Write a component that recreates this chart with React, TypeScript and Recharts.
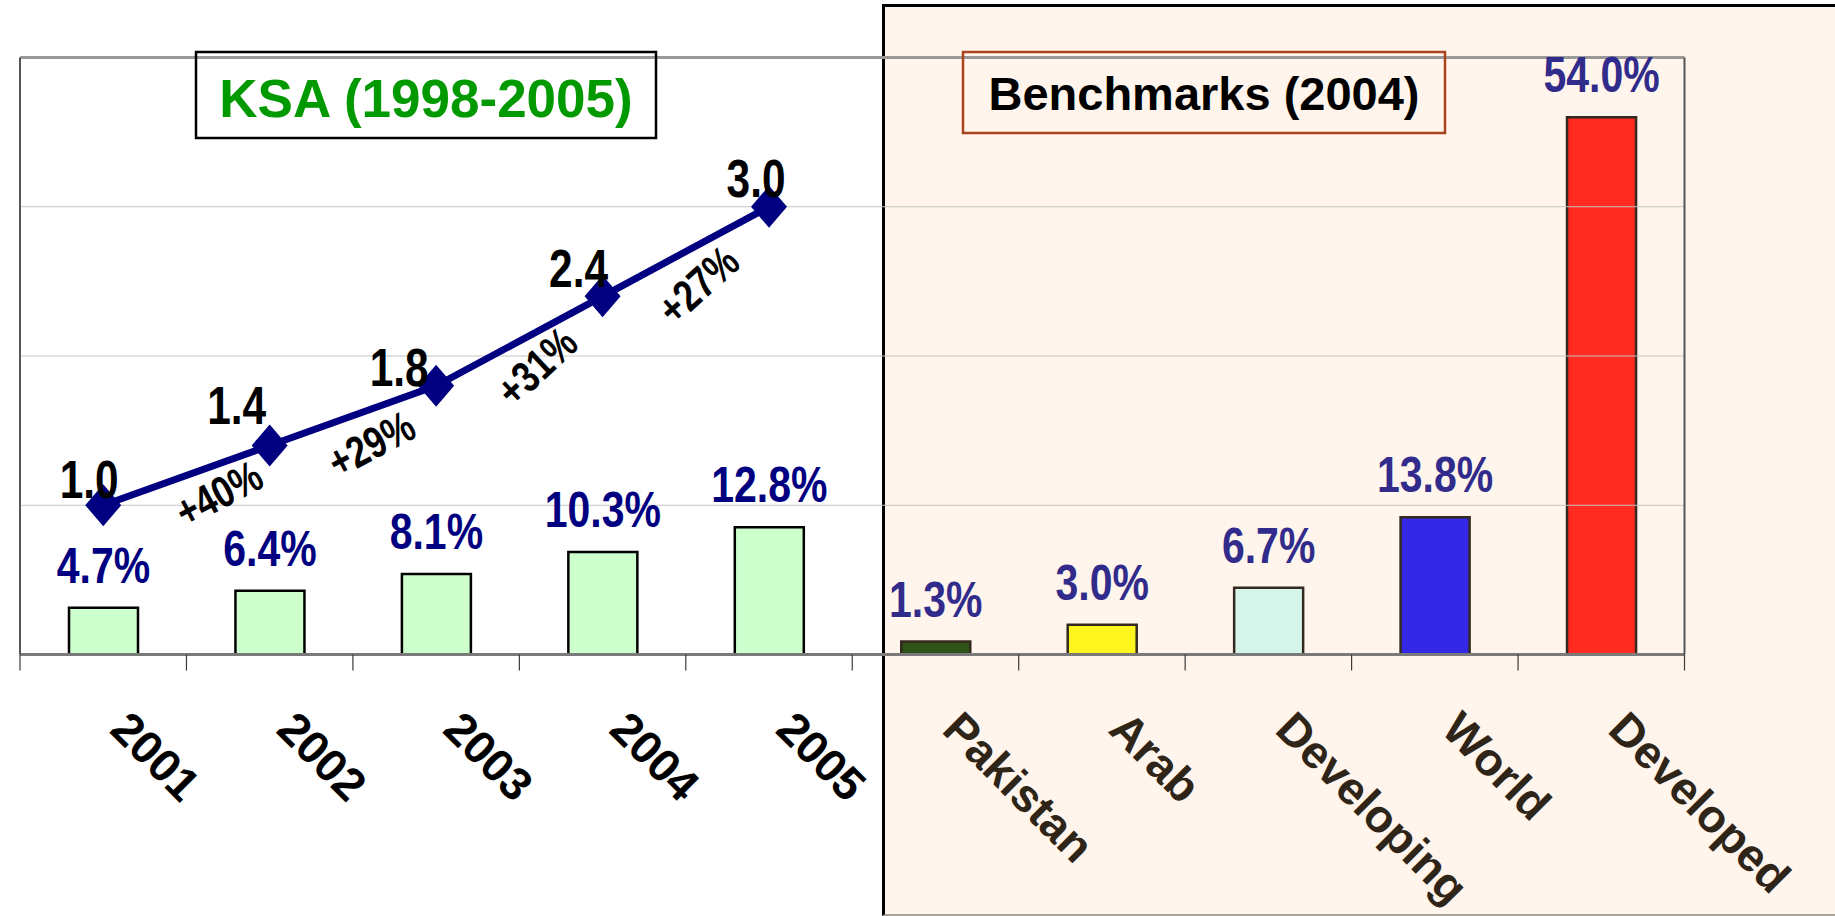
import React from 'react';
import { ComposedChart, Bar, Line, XAxis, YAxis, Cell, ReferenceLine, LabelList } from 'recharts';

// ---------- data ----------
const categories = ['2001', '2002', '2003', '2004', '2005', 'Pakistan', 'Arab', 'Developing', 'World', 'Developed'];
const ratesKSA = [4.7, 6.4, 8.1, 10.3, 12.8];
const ratesBenchmark = [1.3, 3.0, 6.7, 13.8, 54.0];
const indexKSA = [1.0, 1.4, 1.8, 2.4, 3.0];
const growthKSA = ['', '+40%', '+29%', '+31%', '+27%'];
const leftTicks = [0, 0.5, 1, 1.5, 2, 2.5, 3, 3.5, 4];
const rightTicks = [0, 10, 20, 30, 40, 50, 60];
const gridValues = [1, 2, 3];
const titleLeft = 'KSA (1998-2005)';
const titleRight = 'Benchmarks (2004)';

// ---------- layout / styles ----------
const W = 1835;
const H = 916;
const MARGIN = { top: 57.5, right: 0.5, left: 0, bottom: 61.5 };
const LEFT_AXIS_W = 20;
const RIGHT_AXIS_W = 150;
const FALLBACK_HALF_BAND = (W - MARGIN.left - MARGIN.right - LEFT_AXIS_W - RIGHT_AXIS_W) / (categories.length * 2);
const FONT = "'Liberation Sans', Arial, Helvetica, sans-serif";
const barFills = ['#CCFFCC', '#CCFFCC', '#CCFFCC', '#CCFFCC', '#CCFFCC', '#2E5218', '#FFF51E', '#D6F5EA', '#3228E6', '#FF2A20'];
const barStrokes = ['#000', '#000', '#000', '#000', '#000', '#33291E', '#33291E', '#33291E', '#33291E', '#33291E'];
const lineLabelNudge = [[-14, -7], [-33, -22], [-37, 0], [-24, -9], [-13, -10]];
const growthNudge = [[0, 0], [-51, 48], [-65, 58], [-66, 70], [-71, 78]];
const growthAngle = [0, -28, -28, -43, -42];

const data = categories.map((cat, i) => ({
  cat,
  rate: i < ratesKSA.length ? ratesKSA[i] : ratesBenchmark[i - ratesKSA.length],
  index: i < indexKSA.length ? indexKSA[i] : null,
}));

const findIndexByRate = (v: any) => data.findIndex((d) => d.rate === Number(v));

const BarValueLabel = (props: any) => {
  const { x, y, width, value } = props;
  let idx = props.index;
  if (idx == null) idx = findIndexByRate(value);
  if (value == null || x == null) return null;
  const cx = Number(x) + Number(width) / 2;
  const by = Number(y) - 25;
  const color = idx < 5 ? '#000080' : '#312C8C';
  return (
    <text
      transform={`translate(${cx},${by}) scale(0.82,1)`}
      x={0}
      y={0}
      textAnchor="middle"
      fontFamily={FONT}
      fontWeight="bold"
      fontSize={50}
      fill={color}
    >
      {Number(value).toFixed(1) + '%'}
    </text>
  );
};

const renderDot = (p: any) => {
  const { cx, cy, index } = p;
  const key = `dot-${index}`;
  if (cx == null || cy == null || index == null || index >= indexKSA.length) return <g key={key} />;
  const [lx, ly] = lineLabelNudge[index];
  const [gx, gy] = growthNudge[index];
  return (
    <g key={key}>
      <polygon
        points={`${cx},${cy - 21} ${cx + 18},${cy} ${cx},${cy + 21} ${cx - 18},${cy}`}
        fill="#000080"
      />
      <text
        transform={`translate(${cx + lx},${cy + ly}) scale(0.8,1)`}
        x={0}
        y={0}
        textAnchor="middle"
        fontFamily={FONT}
        fontWeight="bold"
        fontSize={53}
        fill="#000"
      >
        {indexKSA[index].toFixed(1)}
      </text>
      {index > 0 && (
        <text
          transform={`translate(${cx + gx},${cy + gy}) rotate(${growthAngle[index]}) scale(0.8,1)`}
          x={0}
          y={0}
          dy="0.35em"
          textAnchor="middle"
          fontFamily={FONT}
          fontWeight="bold"
          fontSize={44}
          fill="#000"
        >
          {growthKSA[index]}
        </text>
      )}
    </g>
  );
};

const CatTick = (props: any) => {
  const { x, y, payload } = props;
  const half = payload && payload.offset != null && Number(payload.offset) > 0 ? Number(payload.offset) : FALLBACK_HALF_BAND;
  const i = categories.indexOf(String(payload.value));
  const right = i >= ratesKSA.length;
  const last = i === categories.length - 1;
  return (
    <g>
      <line x1={x - half} y1={y} x2={x - half} y2={y + 16} stroke="#3a3a3a" strokeWidth={1.2} />
      {last && <line x1={x + half} y1={y} x2={x + half} y2={y + 16} stroke="#3a3a3a" strokeWidth={1.2} />}
      <text
        transform={`translate(${x + 5},${y + 77}) rotate(45)`}
        x={0}
        y={0}
        textAnchor="start"
        fontFamily={FONT}
        fontWeight="bold"
        fontSize={46}
        fill={right ? '#2E2518' : '#000'}
      >
        {payload.value}
      </text>
    </g>
  );
};

export default function App() {
  return (
    <div style={{ position: 'absolute', left: 0, top: 0, width: W, height: H, background: '#fff', overflow: 'hidden' }}>
      <div
        style={{
          position: 'absolute',
          left: 882,
          top: 4,
          width: 1000,
          height: 912,
          boxSizing: 'border-box',
          background: '#FFF5EC',
          borderLeft: '3px solid #000',
          borderTop: '3px solid #000',
          borderBottom: '2px solid #a8a29a',
        }}
      />
      <div style={{ position: 'absolute', left: 0, top: 0 }}>
        <ComposedChart width={W} height={H} data={data} margin={MARGIN}>
          <XAxis
            dataKey="cat"
            interval={0}
            height={200}
            tickLine={false}
            tickSize={0}
            tickMargin={0}
            axisLine={{ stroke: '#7a7a7a', strokeWidth: 3 }}
            tick={<CatTick />}
          />
          <YAxis
            yAxisId="L"
            orientation="left"
            width={LEFT_AXIS_W}
            domain={[0, 4]}
            ticks={leftTicks}
            interval={0}
            tick={false}
            tickSize={13}
            tickLine={{ stroke: '#333', strokeWidth: 1 }}
            axisLine={{ stroke: '#555', strokeWidth: 2 }}
          />
          <YAxis
            yAxisId="R"
            orientation="right"
            width={RIGHT_AXIS_W}
            domain={[0, 60]}
            ticks={rightTicks}
            interval={0}
            tick={false}
            tickSize={7}
            tickLine={{ stroke: '#333', strokeWidth: 1 }}
            axisLine={{ stroke: '#555', strokeWidth: 2 }}
          />
          {gridValues.map((g) => (
            <ReferenceLine key={g} yAxisId="L" y={g} stroke="#c4c4c4" strokeWidth={1} />
          ))}
          <ReferenceLine yAxisId="L" y={4} stroke="#999" strokeWidth={3} />
          <Bar yAxisId="R" dataKey="rate" barSize={69} strokeWidth={2.5} isAnimationActive={false}>
            {data.map((d, i) => (
              <Cell key={d.cat} fill={barFills[i]} stroke={barStrokes[i]} />
            ))}
            <LabelList dataKey="rate" content={<BarValueLabel />} />
          </Bar>
          <Line
            yAxisId="L"
            dataKey="index"
            stroke="#000080"
            strokeWidth={7}
            dot={renderDot}
            activeDot={false}
            connectNulls={false}
            isAnimationActive={false}
          />
        </ComposedChart>
      </div>
      <svg width={W} height={H} style={{ position: 'absolute', left: 0, top: 0, pointerEvents: 'none' }}>
        <rect x={196} y={52} width={460} height={86} fill="none" stroke="#000" strokeWidth={2.5} />
        <text x={426} y={117} textAnchor="middle" fontFamily={FONT} fontWeight="bold" fontSize={53} fill="#009900">
          {titleLeft}
        </text>
        <rect x={963} y={52} width={482} height={81} fill="none" stroke="#A9431B" strokeWidth={2.5} />
        <text x={1204} y={110} textAnchor="middle" fontFamily={FONT} fontWeight="bold" fontSize={47} fill="#000">
          {titleRight}
        </text>
      </svg>
    </div>
  );
}
